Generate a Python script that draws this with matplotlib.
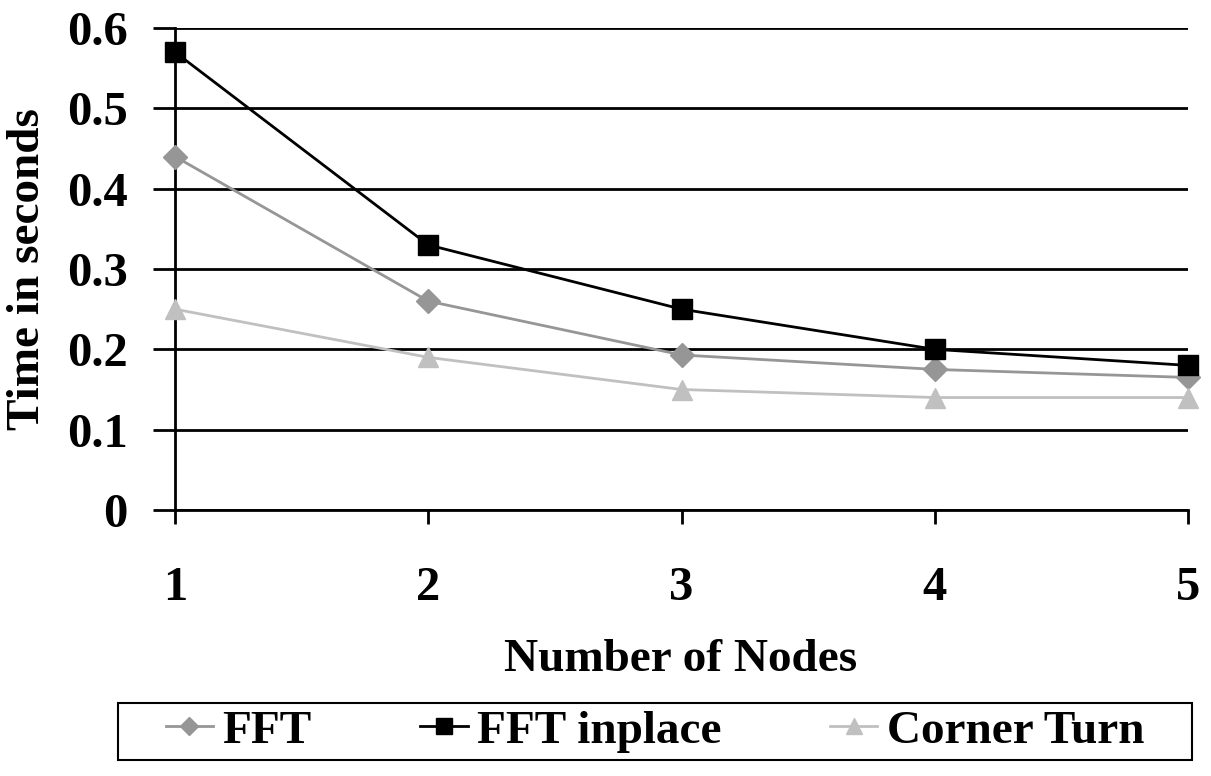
import matplotlib
matplotlib.use("Agg")
import matplotlib.pyplot as plt
from matplotlib.patches import Rectangle

# data
nodes = [1, 2, 3, 4, 5]
fft = [0.44, 0.26, 0.193, 0.175, 0.165]
fft_inplace = [0.57, 0.33, 0.25, 0.20, 0.18]
corner_turn = [0.25, 0.19, 0.15, 0.14, 0.14]
y_ticks = [0, 0.1, 0.2, 0.3, 0.4, 0.5, 0.6]
y_labels = ["0", "0.1", "0.2", "0.3", "0.4", "0.5", "0.6"]

plt.rcParams["font.family"] = ["Liberation Serif", "DejaVu Serif"]
plt.rcParams["font.weight"] = "bold"

W, H = 1211, 776
fig = plt.figure(figsize=(W / 100, H / 100), dpi=100)
ax = fig.add_axes([175 / W, 1 - 510 / H, (1188 - 175) / W, (510 - 28) / H])

fs = 35
ax.plot(nodes, fft, color="#969696", lw=2, marker="D", markersize=12,
        markeredgecolor="#969696", label="FFT", zorder=3, clip_on=False)
ax.plot(nodes, fft_inplace, color="black", lw=2, marker="s", markersize=15,
        label="FFT inplace", zorder=4, clip_on=False)
ax.plot(nodes, corner_turn, color="#C0C0C0", lw=2, marker="^", markersize=15,
        markeredgecolor="#C0C0C0", label="Corner Turn", zorder=3, clip_on=False)

ax.set_xlim(1, 5)
ax.set_ylim(0, 0.6)
ax.set_xticks(nodes)
ax.set_xticklabels([str(n) for n in nodes], fontsize=fs, fontweight="bold")
ax.set_yticks(y_ticks)
ax.set_yticklabels(y_labels, fontsize=fs, fontweight="bold")
ax.yaxis.grid(True, color="black", lw=2)
ax.set_axisbelow(True)

for s in ["top", "right"]:
    ax.spines[s].set_visible(False)
for s in ["left", "bottom"]:
    ax.spines[s].set_linewidth(2)
ax.tick_params(axis="y", direction="out", length=16, width=2, pad=18)
ax.tick_params(axis="x", direction="out", length=10, width=2, pad=30)

ax.set_xlabel("Number of Nodes", fontsize=fs - 1, fontweight="bold", va="center")
ax.xaxis.set_label_coords((681 - 175) / 1013, (510 - 660) / 482)
ax.set_ylabel("Time in seconds", fontsize=fs - 1, fontweight="bold", va="center")
ax.yaxis.set_label_coords((28 - 175) / 1013, (510 - 269) / 482)

# legend box drawn as a separate frame, entries centred inside it
box = Rectangle((118 / W, 1 - 760 / H), (1192 - 118) / W, 57 / H,
                transform=fig.transFigure, fill=False, edgecolor="black", lw=1.5)
fig.patches.append(box)
fig.legend(loc="center", ncol=3, bbox_to_anchor=(655 / W, 1 - 731 / H),
           fontsize=fs - 1, frameon=False,
           handlelength=1.0, handletextpad=0.2, columnspacing=2.3,
           markerscale=0.8)

fig.savefig("out.png", dpi=100)
